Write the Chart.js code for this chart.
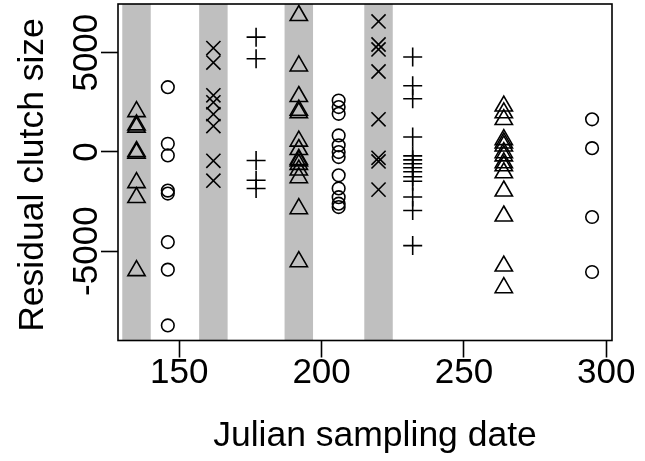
<!DOCTYPE html>
<html><head><meta charset="utf-8">
<script src="https://cdn.jsdelivr.net/npm/chart.js@4/dist/chart.umd.min.js"></script>
<style>html,body{margin:0;padding:0;background:#fff;}#wrap{width:645px;height:461px;}</style>
</head><body><div id="wrap"><canvas id="c" width="645" height="461"></canvas></div>
<script>
// ---- data ----
const xTicks = [150, 200, 250, 300];
const yTicks = [-5000, 0, 5000];
const bands = [[130, 140], [157, 167], [187, 197], [215, 225]];
const dates = [135, 146, 162, 177, 192, 206, 220, 232, 264, 295];
const shapes = ['triangle', 'circle', 'crossRot', 'cross', 'triangle', 'circle', 'crossRot', 'cross', 'triangle', 'circle'];
const res135 = [2030, 1360, 1250, 20, -60, -1550, -2300, -5980];
const res146 = [3260, 410, -180, -1950, -2100, -4540, -5930, -8740];
const res162 = [5230, 4500, 2850, 2500, 1900, 1300, -450, -1450];
const res177 = [5780, 4690, -430, -1430, -1840];
const res192 = [6870, 4330, 2790, 2100, 1980, 545, 120, -380, -450, -630, -915, -1300, -2860, -5530];
const res206 = [2590, 2260, 1920, 830, 330, -10, -260, -1180, -1840, -2280, -2610, -2780];
const res220 = [6570, 5410, 5160, 4050, 1640, -300, -480, -1900];
const res232 = [4780, 3330, 2680, 750, -200, -400, -600, -800, -1000, -1250, -1480, -2270, -2950, -4720];
const res264 = [2310, 1970, 1630, 620, 450, 300, -40, -200, -550, -700, -1050, -1970, -3230, -5750, -6840];
const res295 = [1640, 190, -3280, -6050];
const residuals = [res135, res146, res162, res177, res192, res206, res220, res232, res264, res295];
const xTitle = 'Julian sampling date';
const yTitle = 'Residual clutch size';

// ---- styling ----
const FONT = '"Liberation Sans", Arial, Helvetica, sans-serif';
const radiusFor = {triangle: 10, circle: 6.3, crossRot: 10, cross: 9.5};

const datasets = dates.map((d, i) => ({
  label: 'Day ' + d,
  data: residuals[i].map(v => ({x: d, y: v})),
  pointStyle: shapes[i],
  pointRadius: radiusFor[shapes[i]],
  pointHoverRadius: radiusFor[shapes[i]],
  pointBorderColor: '#000',
  pointBackgroundColor: 'rgba(0,0,0,0)',
  pointBorderWidth: 1.6,
  showLine: false,
  clip: false
}));

const framePlugin = {
  id: 'frame',
  beforeDatasetsDraw(chart) {
    const {ctx, chartArea: a, scales: {x}} = chart;
    ctx.save();
    ctx.fillStyle = '#bfbfbf';
    bands.forEach(([s, e]) => {
      const x0 = x.getPixelForValue(s), x1 = x.getPixelForValue(e);
      ctx.fillRect(x0, a.top, x1 - x0, a.bottom - a.top);
    });
    ctx.restore();
  },
  afterDatasetsDraw(chart) {
    const {ctx, chartArea: a} = chart;
    ctx.save();
    ctx.strokeStyle = '#000';
    ctx.lineWidth = 1.6;
    ctx.strokeRect(a.left, a.top, a.right - a.left, a.bottom - a.top);
    ctx.restore();
  },
  afterDraw(chart) {
    const {ctx} = chart;
    ctx.save();
    ctx.fillStyle = '#000';
    ctx.font = '35.5px ' + FONT;
    ctx.textAlign = 'center';
    ctx.textBaseline = 'middle';
    ctx.fillText(xTitle, 375, 436);
    ctx.translate(33, 175);
    ctx.rotate(-Math.PI / 2);
    ctx.fillText(yTitle, 0, 0);
    ctx.restore();
  }
};

const noPad = s => { s.paddingTop = 0; s.paddingBottom = 0; s.paddingLeft = 0; s.paddingRight = 0; };

new Chart(document.getElementById('c'), {
  type: 'scatter',
  data: {datasets},
  plugins: [framePlugin],
  options: {
    responsive: false,
    devicePixelRatio: 1,
    animation: false,
    layout: {autoPadding: false, padding: {left: 0, top: 4, right: 33, bottom: 0}},
    plugins: {legend: {display: false}, tooltip: {enabled: false}},
    scales: {
      x: {
        type: 'linear', position: 'bottom', min: 128.5, max: 302,
        afterBuildTicks: s => { s.ticks = xTicks.map(v => ({value: v})); },
        afterFit: s => { s.height = 120.5; noPad(s); },
        grid: {drawOnChartArea: false, drawTicks: true, tickLength: 17, tickColor: '#000', tickWidth: 1.6},
        border: {display: false},
        ticks: {font: {family: FONT, size: 35}, color: '#000', padding: -5.6, maxRotation: 0, autoSkip: false,
                callback: v => String(v)},
        title: {display: false}
      },
      y: {
        type: 'linear', position: 'left', min: -9500, max: 7450,
        afterBuildTicks: s => { s.ticks = yTicks.map(v => ({value: v})); },
        afterFit: s => { s.width = 118; noPad(s); },
        grid: {drawOnChartArea: false, drawTicks: true, tickLength: 17, tickColor: '#000', tickWidth: 1.6},
        border: {display: false},
        ticks: {font: {family: FONT, size: 35}, color: '#000', minRotation: 90, maxRotation: 90, crossAlign: 'center', padding: -31, autoSkip: false,
                callback: v => String(v)},
        title: {display: false}
      }
    }
  }
});
</script>
</body></html>
